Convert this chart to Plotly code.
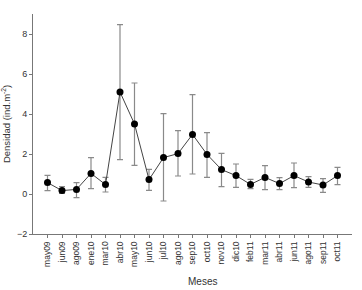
import plotly.graph_objects as go

meses = ["may09", "jun09", "ago09", "ene10", "mar10", "abr10", "may10", "jun10",
         "jul10", "ago10", "sep10", "oct10", "nov10", "dic10", "feb11", "mar11",
         "abr11", "jun11", "ago11", "sep11", "oct11"]
densidad = [0.57, 0.17, 0.23, 1.03, 0.47, 5.10, 3.50, 0.72, 1.82, 2.02, 2.98,
            1.98, 1.22, 0.92, 0.48, 0.83, 0.52, 0.92, 0.60, 0.45, 0.92]
err_sup = [0.93, 0.37, 0.57, 1.82, 0.83, 8.47, 5.55, 1.23, 4.02, 3.17, 4.97,
           3.07, 2.03, 1.50, 0.73, 1.42, 0.82, 1.55, 0.87, 0.77, 1.33]
err_inf = [0.17, 0.03, -0.18, 0.27, 0.10, 1.72, 1.43, 0.18, -0.35, 0.90, 1.00,
           0.83, 0.37, 0.33, 0.27, 0.22, 0.22, 0.32, 0.33, 0.08, 0.47]

plus = [u - v for u, v in zip(err_sup, densidad)]
minus = [v - l for v, l in zip(densidad, err_inf)]
idx = list(range(len(meses)))

fig = go.Figure()
fig.add_trace(go.Scatter(
    x=idx, y=densidad, mode="lines+markers",
    line=dict(color="#444444", width=1),
    marker=dict(color="black", size=7),
    error_y=dict(type="data", symmetric=False, array=plus, arrayminus=minus,
                 color="#8a8a8a", thickness=1.2, width=3),
    showlegend=False,
))

font = dict(family="Liberation Sans, Arial, sans-serif", size=9, color="#333333")
fig.update_layout(
    width=362, height=290,
    margin=dict(l=33, r=10, t=14, b=56),
    paper_bgcolor="white", plot_bgcolor="white",
    font=font,
    xaxis=dict(
        range=[-1, 21], tickmode="array", tickvals=idx, ticktext=meses,
        tickangle=-90, showgrid=False, zeroline=False, automargin=False,
        showline=True, linecolor="#777777", linewidth=1,
        ticks="outside", ticklen=3, tickcolor="#777777",
        tickfont=dict(size=8.5, color="#333333"),
    ),
    yaxis=dict(
        range=[-2, 9], tickvals=[-2, 0, 2, 4, 6, 8], showgrid=False, zeroline=False,
        automargin=False,
        showline=True, linecolor="#777777", linewidth=1,
        ticks="outside", ticklen=3, tickcolor="#777777",
        tickfont=dict(size=9, color="#333333"),
        title=dict(text="Densidad (ind.m<sup>-2</sup>)", font=dict(size=9.5, color="#333333"), standoff=4),
    ),
    annotations=[dict(
        text="Meses", xref="paper", yref="paper", x=0.53, y=-0.215,
        xanchor="center", yanchor="middle", showarrow=False,
        font=dict(size=10, color="#333333"),
    )],
)
fig.write_html("out.html", config={"displayModeBar": False},
               post_script="document.body.style.margin='0';")
